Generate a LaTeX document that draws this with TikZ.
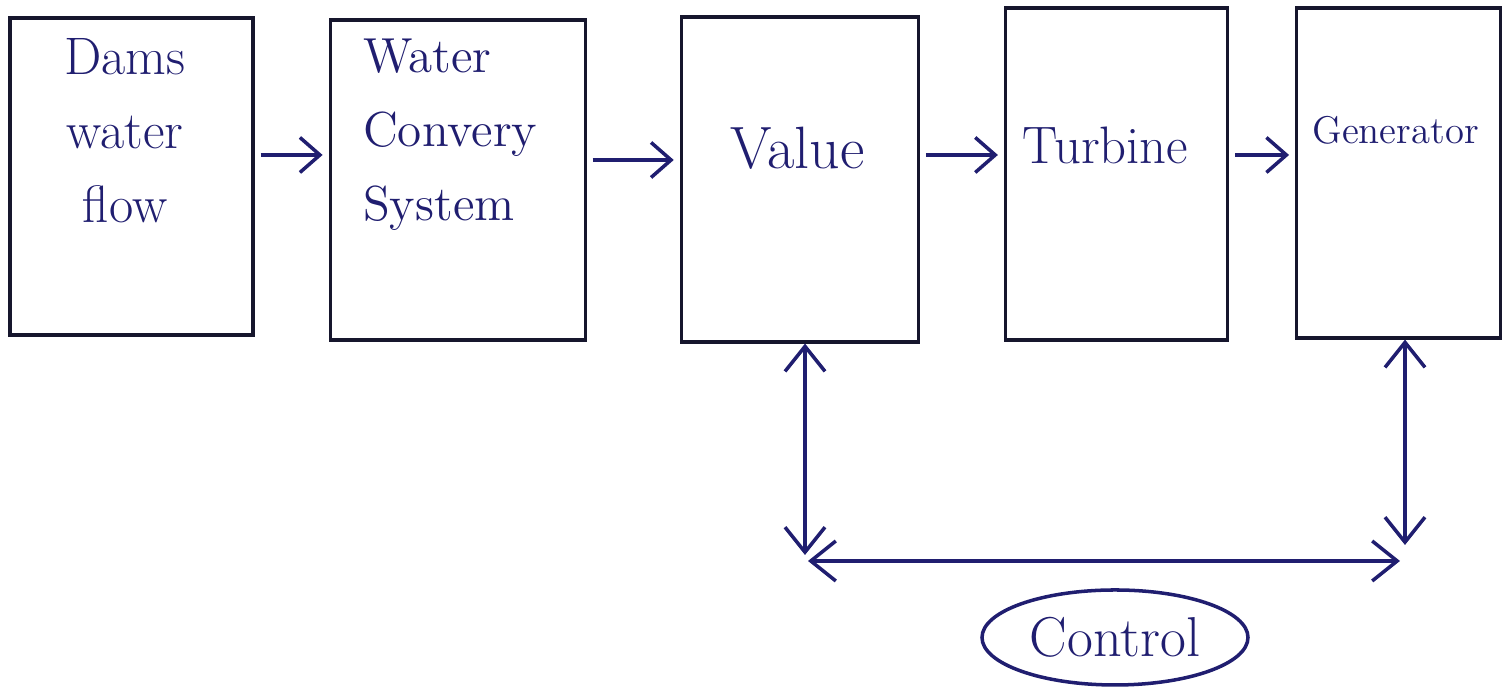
\documentclass[tikz,border=0pt]{standalone}
\usetikzlibrary{positioning,arrows.meta,shapes.geometric}
\definecolor{pen}{RGB}{32,30,112}
\definecolor{edge}{RGB}{22,22,45}

\begin{document}
\begin{tikzpicture}[box/.style={draw=edge,line width=0.9pt,inner sep=0pt},
		txt/.style={text=pen,inner sep=0pt},
		arr/.style={draw=pen,line width=1pt,-{Straight Barb[length=2mm,width=3.5mm]}},
		dbl/.style={draw=pen,line width=1pt,{Straight Barb[length=2.5mm,width=4mm]}-{Straight Barb[length=2.5mm,width=4mm]}}]
	\useasboundingbox (0,0) rectangle (15.09,6.88);
	\node[box,minimum width=24.3mm,minimum height=31.7mm]								(1)	at (1.315,5.115) {};
	\node[box,minimum width=25.5mm,minimum height=32mm,node distance=7.4mm,right=of 1,yshift=-0.35mm]	(2)	{};
	\node[box,minimum width=23.7mm,minimum height=32.5mm,node distance=9.3mm,right=of 2,yshift=0.05mm]	(3)	{};
	\node[box,minimum width=22.2mm,minimum height=33.2mm,node distance=8.4mm,right=of 3,yshift=0.55mm]	(4)	{};
	\node[box,minimum width=20.4mm,minimum height=33mm,node distance=6.6mm,right=of 4,yshift=0.1mm]	(5)	{};

	\node[txt,align=center,font=\fontsize{15}{21}\selectfont]	(t1) at ([xshift=-0.65mm,yshift=4.55mm]1.center) {Dams\\water\\flow};
	\node[txt,align=left,font=\fontsize{14}{21}\selectfont]		(t2) at ([xshift=-0.75mm,yshift=4.5mm]2.center) {Water\\Convery\\System};
	\node[txt,font=\fontsize{17}{20}\selectfont]				(t3) at ([xshift=-0.25mm,yshift=3.15mm]3.center) {Value};
	\node[txt,font=\fontsize{15}{18}\selectfont]				(t4) at ([xshift=-1.1mm,yshift=2.9mm]4.center) {Turbine};
	\node[txt,font=\fontsize{11}{13}\selectfont]				(t5) at ([xshift=-0.3mm,yshift=4.3mm]5.center) {Generator};

	\node[draw=pen,line width=1pt,ellipse,minimum width=26.6mm,minimum height=9.5mm,inner sep=0pt,text=pen,font=\fontsize{16}{19}\selectfont] (6) at (11.15,0.505) {Control};

	\coordinate (a) at (8.05,1.33);
	\coordinate (b) at (14.05,1.43);
	\coordinate (c) at (8.08,1.27);
	\coordinate (d) at (14.0,1.27);

	\draw[arr,shorten <=0.6mm,shorten >=0.6mm] ([yshift=2.15mm]1.east) -- ([yshift=2.15mm]1.east -| 2.west);
	\draw[arr,shorten <=0.6mm,shorten >=0.6mm] ([yshift=2mm]2.east) -- ([yshift=2mm]2.east -| 3.west);
	\draw[arr,shorten <=0.6mm,shorten >=0.6mm] ([yshift=2.45mm]3.east) -- ([yshift=2.45mm]3.east -| 4.west);
	\draw[arr,shorten <=0.6mm,shorten >=0.6mm] ([yshift=1.9mm]4.east) -- ([yshift=1.9mm]4.east -| 5.west);
	\draw[dbl] (3.south -| a) -- (a);
	\draw[dbl] (5.south -| b) -- (b);
	\draw[dbl] (c) -- (d);
\end{tikzpicture}
\end{document}
